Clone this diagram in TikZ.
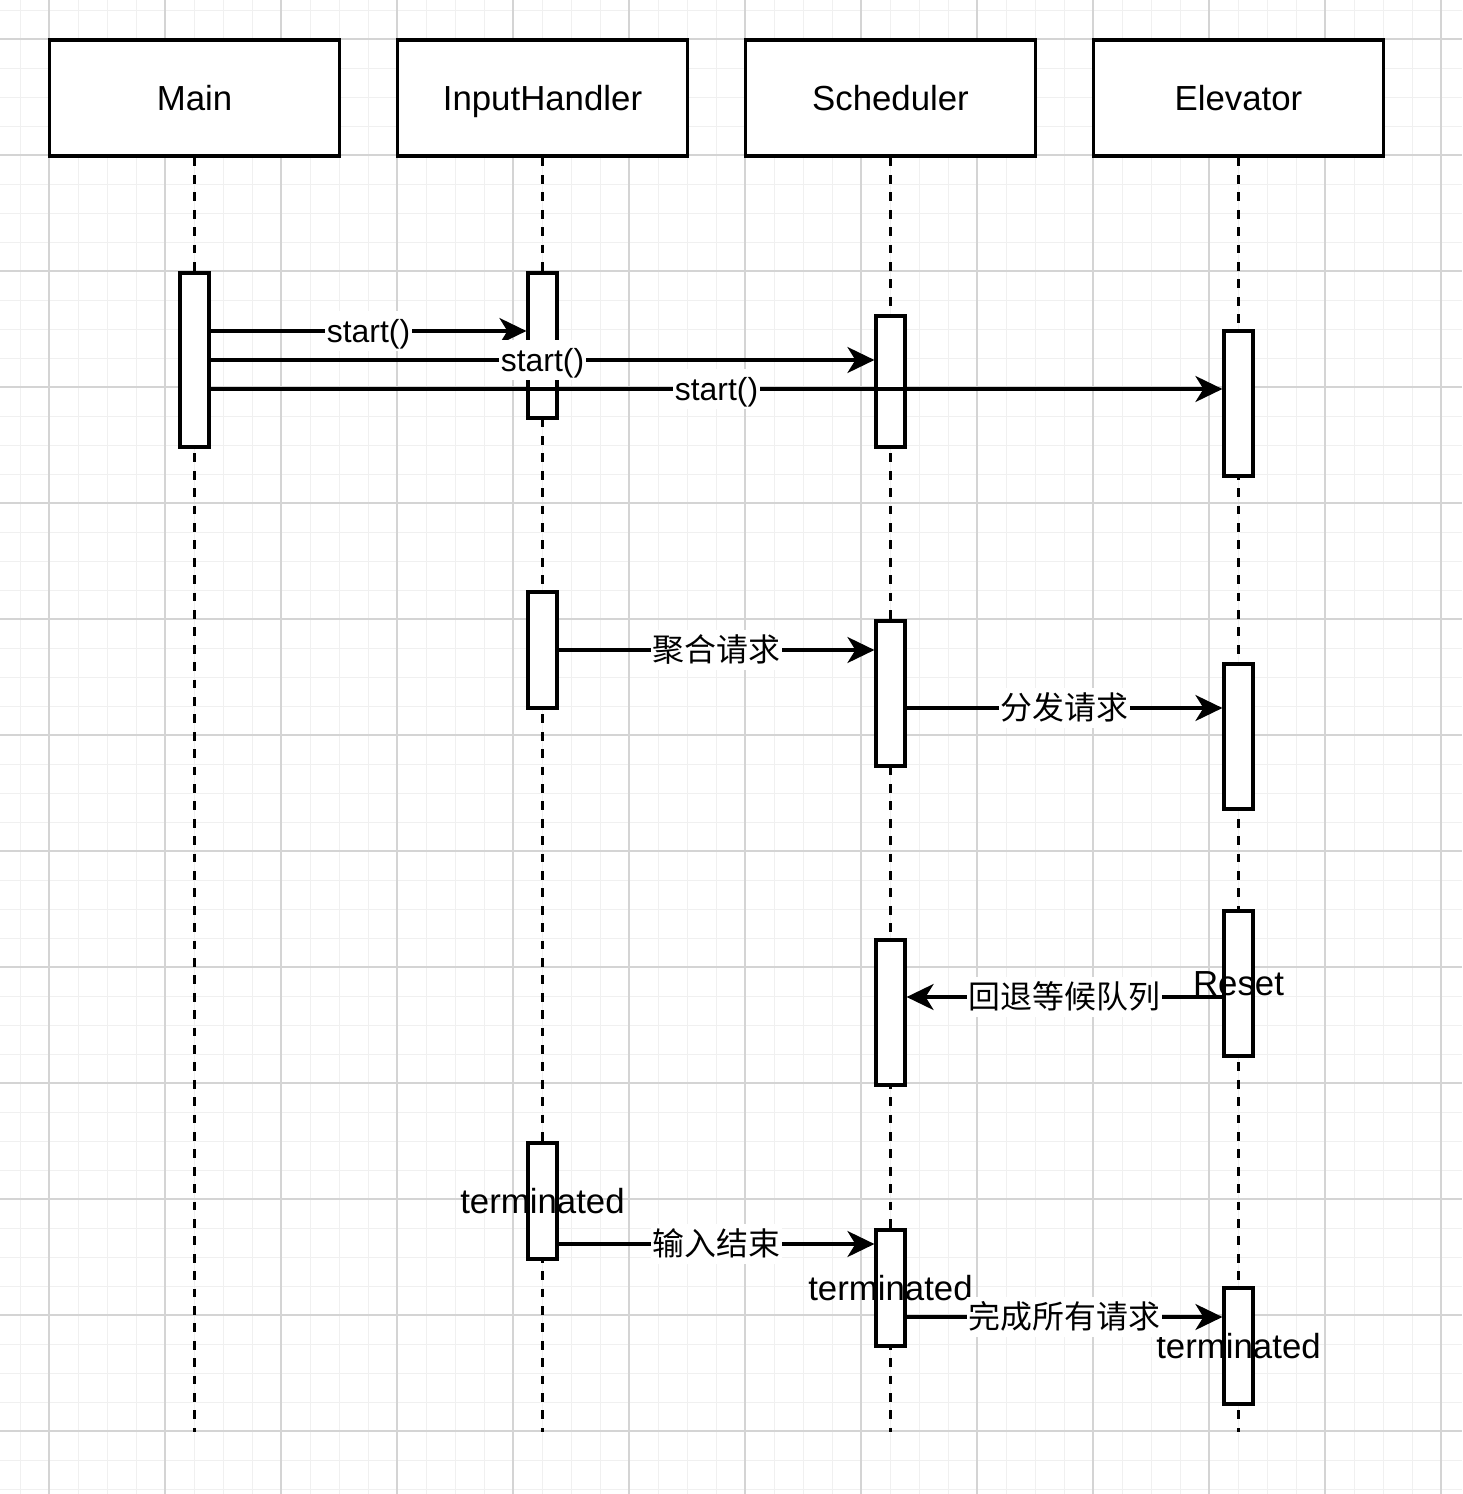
\documentclass[tikz,border=0pt]{standalone}
\usepackage{fontspec}
\setmainfont{Liberation Sans}
\newfontfamily\cjkfont{Noto Sans CJK SC}
\usetikzlibrary{arrows.meta}
\definecolor{gridmajor}{HTML}{D4D4D4}
\definecolor{gridminor}{HTML}{F0F0F0}
\begin{document}
\begin{tikzpicture}[x=0.5pt,y=-0.5pt,
  bigtxt/.style={font=\fontsize{17.4}{20}\selectfont, text height=15.75pt, text depth=3.69pt},
  smalltxt/.style={font=\fontsize{15.95}{18}\selectfont, text height=14.43pt, text depth=3.38pt},
  header/.style={draw, line width=1.6pt, fill=white, minimum width=145pt, minimum height=58pt, inner sep=0pt, bigtxt},
  act/.style={draw, line width=1.6pt, fill=white, minimum width=14.5pt, inner sep=0pt},
  actlabel/.style={inner sep=0pt, bigtxt},
  lifeline/.style={line width=1.6pt, dash pattern=on 4.35pt off 4.35pt},
  msg/.style={line width=1.6pt, -{Stealth[length=13.5pt, width=13pt, inset=4pt]}},
  msglabel/.style={fill=white, inner sep=1pt, smalltxt},
  cjklabel/.style={msglabel, font=\cjkfont\fontsize{15.95}{18}\selectfont},
  minorline/.style={draw=gridminor, line width=0.5pt},
  majorline/.style={draw=gridmajor, line width=0.55pt}]
\useasboundingbox (0,0) rectangle (1462,1494);
\fill[white] (0,0) rectangle (1462,1494);
% grid
\foreach \k in {-1,...,48} \draw[minorline] ({49+29*\k},0) -- ({49+29*\k},1494);
\foreach \k in {-1,...,50} \draw[minorline] (0,{39+29*\k}) -- (1462,{39+29*\k});
\foreach \k in {0,...,12} \draw[majorline] ({49+116*\k},0) -- ({49+116*\k},1494);
\foreach \k in {0,...,12} \draw[majorline] (0,{39+116*\k}) -- (1462,{39+116*\k});

% headers
\node[header] (main) at (194.5,98) {Main};
\node[header] (ih) at (542.5,98) {InputHandler};
\node[header] (sch) at (890.5,98) {Scheduler};
\node[header] (elv) at (1238.5,98) {Elevator};

% lifeline ends
\coordinate (mainEnd) at (194.5,1432);
\coordinate (ihEnd) at (542.5,1432);
\coordinate (schEnd) at (890.5,1432);
\coordinate (elvEnd) at (1238.5,1432);
\draw[lifeline] (main.south) -- (mainEnd);
\draw[lifeline] (ih.south) -- (ihEnd);
\draw[lifeline] (sch.south) -- (schEnd);
\draw[lifeline] (elv.south) -- (elvEnd);

% activations
\node[act, minimum height=87pt] (m1) at (194.5,360) {};
\node[act, minimum height=72.5pt] (ih1) at (542.5,345.5) {};
\node[act, minimum height=65.5pt] (s1) at (890.5,381.5) {};
\node[act, minimum height=72.5pt] (e1) at (1238.5,403.5) {};
\node[act, minimum height=58pt] (ih2) at (542.5,650) {};
\node[act, minimum height=72.5pt] (s2) at (890.5,693.5) {};
\node[act, minimum height=72.5pt] (e2) at (1238.5,736.5) {};
\node[act, minimum height=72.5pt] (e3) at (1238.5,983.5) {};
\node[act, minimum height=72.5pt] (s3) at (890.5,1012.5) {};
\node[act, minimum height=58pt] (ih3) at (542.5,1201) {};
\node[act, minimum height=58pt] (s4) at (890.5,1288) {};
\node[act, minimum height=58pt] (e4) at (1238.5,1346) {};

\node[actlabel] (e3t) at (e3) {Reset};
\node[actlabel] (ih3t) at (ih3) {terminated};
\node[actlabel] (s4t) at (s4) {terminated};
\node[actlabel] (e4t) at (e4) {terminated};

% message heights
\coordinate (y1) at (0,331);
\coordinate (y2) at (0,360);
\coordinate (y3) at (0,389);
\coordinate (y4) at (0,650);
\coordinate (y5) at (0,708);
\coordinate (y6) at (0,997);
\coordinate (y7) at (0,1244);
\coordinate (y8) at (0,1317);

\draw[msg] (m1.east |- y1) -- node[msglabel] (l1) {start()} (ih1.west |- y1);
\draw[msg] (m1.east |- y2) -- node[msglabel] (l2) {start()} (s1.west |- y2);
\draw[msg] (m1.east |- y3) -- node[msglabel] (l3) {start()} (e1.west |- y3);
\draw[msg] (ih2.east |- y4) -- node[cjklabel] (l4) {聚合请求} (s2.west |- y4);
\draw[msg] (s2.east |- y5) -- node[cjklabel] (l5) {分发请求} (e2.west |- y5);
\draw[msg] (e3.west |- y6) -- node[cjklabel] (l6) {回退等候队列} (s3.east |- y6);
\draw[msg] (ih3.east |- y7) -- node[cjklabel] (l7) {输入结束} (s4.west |- y7);
\draw[msg] (s4.east |- y8) -- node[cjklabel] (l8) {完成所有请求} (e4.west |- y8);
\end{tikzpicture}
\end{document}
